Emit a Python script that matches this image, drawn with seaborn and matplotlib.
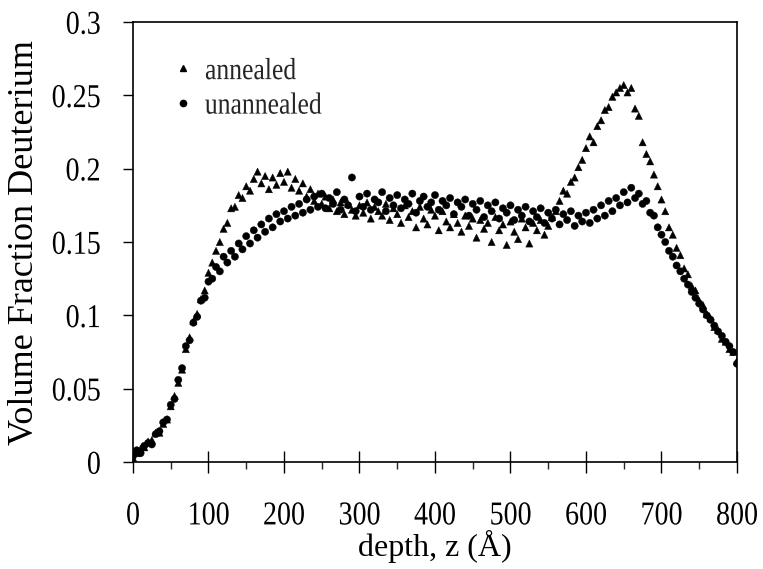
import numpy as np
import pandas as pd
import matplotlib
matplotlib.use("Agg")
import matplotlib.pyplot as plt
import seaborn as sns
from matplotlib.ticker import MultipleLocator
from matplotlib.lines import Line2D
from matplotlib.patheffects import AbstractPathEffect
from matplotlib.transforms import Affine2D

# depth grid (Å), 5 Å bins
depth = np.arange(0, 801, 5)

annealed = [
    0.003, 0.006, 0.009, 0.010, 0.014, 0.015, 0.020, 0.020, 0.026, 0.029,
    0.038, 0.045, 0.054, 0.063, 0.077, 0.085, 0.096, 0.101, 0.111, 0.117,
    0.129, 0.136, 0.144, 0.150, 0.159, 0.163, 0.173, 0.174, 0.182, 0.180,
    0.188, 0.185, 0.193, 0.198, 0.190, 0.195, 0.186, 0.194, 0.189, 0.197,
    0.191, 0.198, 0.187, 0.193, 0.185, 0.190, 0.181, 0.186, 0.178, 0.183,
    0.176, 0.181, 0.173, 0.179, 0.171, 0.177, 0.169, 0.176, 0.172, 0.168,
    0.175, 0.170, 0.177, 0.166, 0.174, 0.171, 0.168, 0.176, 0.165, 0.173,
    0.169, 0.163, 0.175, 0.167, 0.171, 0.160, 0.174, 0.166, 0.162, 0.172,
    0.168, 0.158, 0.171, 0.164, 0.160, 0.169, 0.163, 0.157, 0.168, 0.161,
    0.166, 0.153, 0.165, 0.159, 0.163, 0.150, 0.167, 0.158, 0.162, 0.148,
    0.164, 0.157, 0.152, 0.166, 0.160, 0.149, 0.163, 0.158, 0.165, 0.155,
    0.161, 0.167, 0.171, 0.178, 0.185, 0.183, 0.191, 0.194, 0.201, 0.206,
    0.214, 0.222, 0.218, 0.229, 0.233, 0.240, 0.242, 0.249, 0.252, 0.255,
    0.257, 0.252, 0.255, 0.241, 0.236, 0.218, 0.210, 0.205, 0.196, 0.188,
    0.179, 0.171, 0.160, 0.155, 0.146, 0.141, 0.132, 0.128, 0.120, 0.117,
    0.110, 0.107, 0.101, 0.098, 0.092, 0.090, 0.084, 0.082, 0.077, 0.075,
    0.069,
]

unannealed = [
    0.004, 0.008, 0.006, 0.011, 0.013, 0.012, 0.019, 0.021, 0.027, 0.029,
    0.039, 0.043, 0.056, 0.064, 0.079, 0.083, 0.095, 0.099, 0.110, 0.112,
    0.123, 0.125, 0.133, 0.130, 0.140, 0.136, 0.144, 0.140, 0.149, 0.145,
    0.154, 0.149, 0.158, 0.153, 0.162, 0.157, 0.166, 0.160, 0.169, 0.164,
    0.171, 0.166, 0.174, 0.168, 0.176, 0.170, 0.179, 0.172, 0.181, 0.174,
    0.183, 0.173, 0.180, 0.176, 0.184, 0.172, 0.179, 0.175, 0.194, 0.171,
    0.181, 0.174, 0.183, 0.172, 0.179, 0.177, 0.184, 0.171, 0.180, 0.175,
    0.182, 0.173, 0.179, 0.176, 0.183, 0.170, 0.178, 0.181, 0.174, 0.177,
    0.182, 0.172, 0.178, 0.175, 0.180, 0.169, 0.177, 0.174, 0.179, 0.168,
    0.176, 0.172, 0.178, 0.167, 0.175, 0.171, 0.177, 0.166, 0.173, 0.170,
    0.175, 0.165, 0.172, 0.168, 0.174, 0.164, 0.171, 0.167, 0.173, 0.163,
    0.170, 0.166, 0.172, 0.162, 0.169, 0.165, 0.171, 0.161, 0.168, 0.164,
    0.170, 0.163, 0.172, 0.166, 0.175, 0.168, 0.178, 0.171, 0.180, 0.175,
    0.184, 0.177, 0.187, 0.180, 0.183, 0.176, 0.178, 0.170, 0.168, 0.160,
    0.155, 0.150, 0.144, 0.140, 0.134, 0.130, 0.125, 0.121, 0.116, 0.112,
    0.108, 0.104, 0.100, 0.097, 0.093, 0.089, 0.086, 0.082, 0.079, 0.075,
    0.067,
]

series_names = ["annealed", "unannealed"]
xticks = [0, 100, 200, 300, 400, 500, 600, 700, 800]
yticks = [0, 0.05, 0.1, 0.15, 0.2, 0.25, 0.3]
ytick_labels = ["0", "0.05", "0.1", "0.15", "0.2", "0.25", "0.3"]

df = pd.DataFrame({
    "depth": np.concatenate([depth, depth]),
    "vf": np.concatenate([annealed, unannealed]),
    "series": [series_names[0]] * len(depth) + [series_names[1]] * len(depth),
})


class Condense(AbstractPathEffect):
    """Horizontally condense a text's glyph outlines (narrow Times look)."""

    def __init__(self, sx=0.84, anchor="center"):
        super().__init__()
        self.sx = sx
        self.anchor = anchor

    def draw_path(self, renderer, gc, tpath, affine, rgbFace=None):
        v = tpath.vertices
        if tpath.codes is not None:
            v = v[(tpath.codes != 79) & (tpath.codes != 0)]
        if len(v) == 0:
            renderer.draw_path(gc, tpath, affine, rgbFace)
            return
        d = affine.transform(v)
        x0, x1 = d[:, 0].min(), d[:, 0].max()
        cx = {"left": x0, "right": x1, "center": 0.5 * (x0 + x1)}[self.anchor]
        aff = affine + Affine2D().translate(-cx, 0).scale(self.sx, 1).translate(cx, 0)
        renderer.draw_path(gc, tpath, aff, rgbFace)


sns.set_style("white")
plt.rcParams["font.family"] = ["Liberation Serif", "DejaVu Serif"]

fig = plt.figure(figsize=(7.63, 5.69), dpi=100)
ax = fig.add_axes([0.1743, 0.188, 0.7916, 0.7733])

sns.scatterplot(
    data=df, x="depth", y="vf", style="series",
    markers={"annealed": "^", "unannealed": "o"},
    color="black", edgecolor="black", linewidth=0.3, s=27,
    ax=ax, legend=False,
)

ax.set_xlim(0, 800)
ax.set_ylim(0, 0.3)
ax.set_xticks(xticks)
ax.set_xticklabels([str(t) for t in xticks])
ax.set_yticks(yticks)
ax.set_yticklabels(ytick_labels)
ax.xaxis.set_minor_locator(MultipleLocator(50))

for sp in ax.spines.values():
    sp.set_color("black")
    sp.set_linewidth(1.2)

ax.tick_params(axis="x", which="major", direction="inout", length=16, width=1,
               labelsize=24, pad=20, bottom=True, top=False, colors="black")
ax.tick_params(axis="x", which="minor", direction="out", length=5, width=1,
               bottom=True, top=False)
ax.tick_params(axis="y", which="major", direction="out", length=7, width=1,
               labelsize=24, pad=16, left=True, right=False, colors="black")

ax.set_xlabel("depth, z (Å)", fontsize=23, labelpad=-1, color="black")
ax.set_ylabel("Volume Fraction Deuterium", fontsize=26, labelpad=1, color="black")

handles = [
    Line2D([], [], marker="^", linestyle="none", color="black", markersize=4.5),
    Line2D([], [], marker="o", linestyle="none", color="black", markersize=4.5),
]
leg = ax.legend(handles, series_names, loc="upper left", bbox_to_anchor=(0.043, 0.948),
                frameon=False, fontsize=22, handlelength=0.8, handletextpad=0.3,
                labelspacing=0.18, borderaxespad=0)

fig.canvas.draw()
for t in ax.get_xticklabels():
    t.set_path_effects([Condense(0.84, "center")])
for t in ax.get_yticklabels():
    t.set_path_effects([Condense(0.84, "right")])
for t in leg.get_texts():
    t.set_path_effects([Condense(0.84, "left")])

fig.savefig("out.png", dpi=100)
